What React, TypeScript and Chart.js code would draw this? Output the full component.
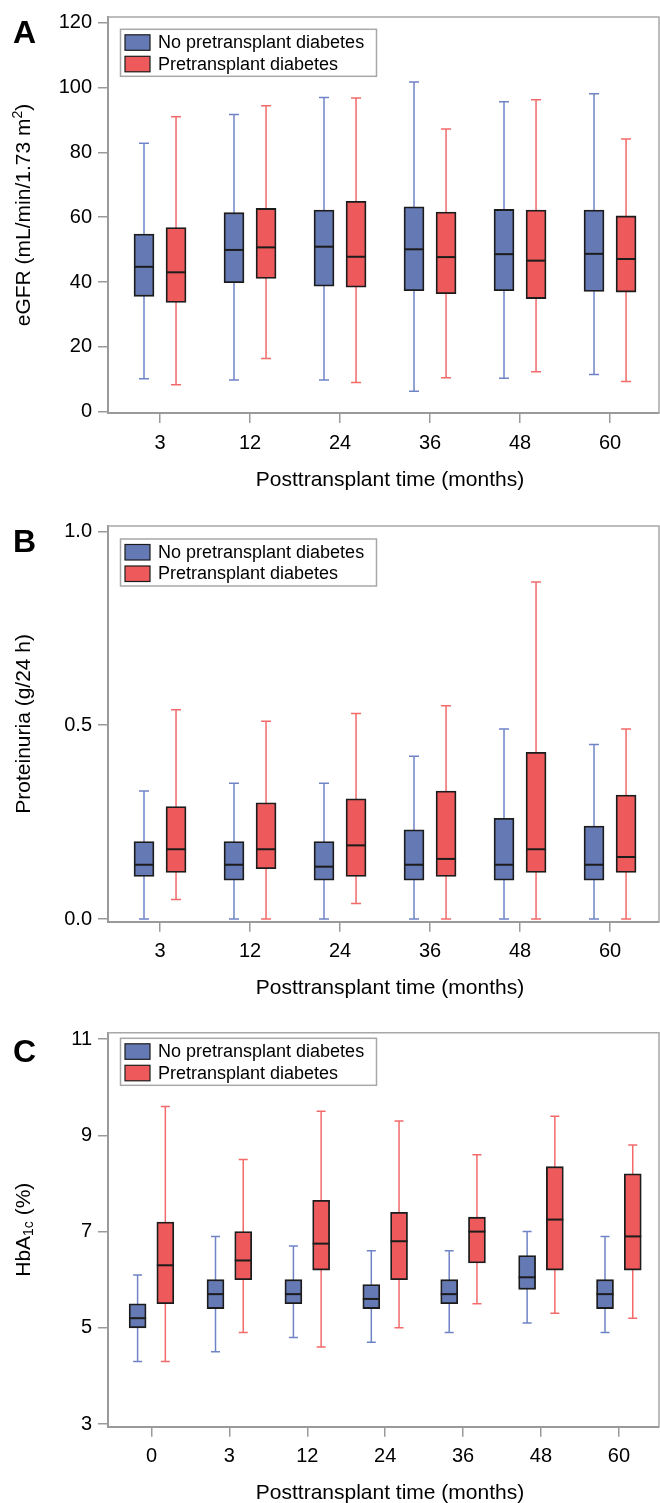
import React, { useEffect, useRef } from 'react';
import { Chart, registerables } from 'chart.js';

Chart.register(...registerables);

const FONT = "'Liberation Sans', Arial, Helvetica, sans-serif";
Chart.defaults.font.family = FONT;

const legendLabels = ['No pretransplant diabetes', 'Pretransplant diabetes'];
const xAxisTitle = 'Posttransplant time (months)';

// ---------- Panel A: eGFR ----------
const monthsA = ['3', '12', '24', '36', '48', '60'];
const egfrTicks = [0, 20, 40, 60, 80, 100, 120];
const egfrTickLabels = ['0', '20', '40', '60', '80', '100', '120'];
const egfrNoMin = [10.2, 9.8, 9.8, 6.3, 10.3, 11.5];
const egfrNoQ1 = [35.6, 39.8, 38.7, 37.3, 37.3, 37.1];
const egfrNoMed = [44.7, 49.9, 50.9, 50.1, 48.6, 48.7];
const egfrNoQ3 = [54.8, 61.4, 62.2, 63.2, 62.4, 62.2];
const egfrNoMax = [82.8, 91.7, 96.9, 101.7, 95.6, 98.1];
const egfrDmMin = [8.3, 16.4, 9.0, 10.5, 12.3, 9.3];
const egfrDmQ1 = [33.7, 41.1, 38.4, 36.4, 34.9, 36.9];
const egfrDmMed = [43.0, 50.7, 47.8, 47.7, 46.6, 47.1];
const egfrDmQ3 = [56.8, 62.7, 64.9, 61.6, 62.2, 60.4];
const egfrDmMax = [91.0, 94.4, 96.8, 87.2, 96.2, 84.1];

// ---------- Panel B: Proteinuria ----------
const monthsB = ['3', '12', '24', '36', '48', '60'];
const protTicks = [0, 0.5, 1.0];
const protTickLabels = ['0.0', '0.5', '1.0'];
const protNoMin = [0, 0, 0, 0, 0, 0];
const protNoQ1 = [0.11, 0.10, 0.10, 0.10, 0.10, 0.10];
const protNoMed = [0.14, 0.14, 0.135, 0.14, 0.14, 0.14];
const protNoQ3 = [0.20, 0.20, 0.20, 0.23, 0.26, 0.24];
const protNoMax = [0.33, 0.35, 0.35, 0.42, 0.49, 0.45];
const protDmMin = [0.05, 0, 0.04, 0, 0, 0];
const protDmQ1 = [0.12, 0.13, 0.11, 0.11, 0.12, 0.12];
const protDmMed = [0.18, 0.18, 0.19, 0.155, 0.18, 0.16];
const protDmQ3 = [0.29, 0.30, 0.31, 0.33, 0.43, 0.32];
const protDmMax = [0.54, 0.51, 0.53, 0.55, 0.87, 0.49];

// ---------- Panel C: HbA1c ----------
const monthsC = ['0', '3', '12', '24', '36', '48', '60'];
const hbaTicks = [3, 5, 7, 9, 11];
const hbaTickLabels = ['3', '5', '7', '9', '11'];
const hbaNoMin = [4.3, 4.5, 4.8, 4.7, 4.9, 5.1, 4.9];
const hbaNoQ1 = [5.0, 5.4, 5.5, 5.4, 5.5, 5.8, 5.4];
const hbaNoMed = [5.2, 5.7, 5.7, 5.6, 5.7, 6.05, 5.7];
const hbaNoQ3 = [5.5, 6.0, 6.0, 5.9, 6.0, 6.5, 6.0];
const hbaNoMax = [6.1, 6.9, 6.7, 6.6, 6.6, 7.0, 6.9];
const hbaDmMin = [4.3, 4.9, 4.6, 5.0, 5.5, 5.3, 5.2];
const hbaDmQ1 = [5.5, 6.0, 6.2, 6.0, 6.35, 6.2, 6.2];
const hbaDmMed = [6.3, 6.4, 6.75, 6.8, 7.0, 7.25, 6.9];
const hbaDmQ3 = [7.2, 7.0, 7.65, 7.4, 7.3, 8.35, 8.2];
const hbaDmMax = [9.6, 8.5, 9.5, 9.3, 8.6, 9.4, 8.8];

const FILLS = ['#6579B4', '#EE5A5B'];
const WHISKERS = ['#6F84C6', '#F26A6A'];
const EDGE = '#1c1c1c';
const AXIS_GRAY = '#9a9a9a';
const FRAME_GRAY = '#a8a8a8';
const GROUP_OFFSET = 0.178;

type Box = { min: number[]; q1: number[]; med: number[]; q3: number[]; max: number[] };
type TitlePart = { text: string; kind?: 'sup' | 'sub' };

type PanelProps = {
  letter: string;
  letterY: number;
  top: number;
  height: number;
  categories: string[];
  yTicks: number[];
  yTickLabels: string[];
  yMin: number;
  yMax: number;
  xMin: number;
  xMax: number;
  groups: Box[];
  yTitle: TitlePart[];
  padTop: number;
  axisH: number;
  barW: number;
  capHalf: number;
  legendDy: number;
};

function Panel(p: PanelProps) {
  const ref = useRef<HTMLCanvasElement | null>(null);

  useEffect(() => {
    const canvas = ref.current;
    if (!canvas) return;
    const offs = [-GROUP_OFFSET, GROUP_OFFSET];

    const plugin = {
      id: 'boxdecor',
      beforeDatasetsDraw(chart: any) {
        const { ctx, scales } = chart;
        const x = scales.x;
        const y = scales.y;
        ctx.save();
        p.groups.forEach((g, gi) => {
          ctx.strokeStyle = WHISKERS[gi];
          ctx.lineWidth = 1.5;
          g.min.forEach((mn, i) => {
            const cx = x.getPixelForValue(i + offs[gi]);
            const y0 = y.getPixelForValue(mn);
            const y1 = y.getPixelForValue(g.max[i]);
            ctx.beginPath();
            ctx.moveTo(cx, y0);
            ctx.lineTo(cx, y1);
            ctx.moveTo(cx - p.capHalf, y0);
            ctx.lineTo(cx + p.capHalf, y0);
            ctx.moveTo(cx - p.capHalf, y1);
            ctx.lineTo(cx + p.capHalf, y1);
            ctx.stroke();
          });
        });
        ctx.restore();
      },
      afterDatasetsDraw(chart: any) {
        const { ctx, scales } = chart;
        const x = scales.x;
        const y = scales.y;
        ctx.save();
        ctx.strokeStyle = EDGE;
        ctx.lineWidth = 2;
        p.groups.forEach((g, gi) => {
          g.med.forEach((m, i) => {
            const cx = x.getPixelForValue(i + offs[gi]);
            const ym = y.getPixelForValue(m);
            ctx.beginPath();
            ctx.moveTo(cx - p.barW / 2, ym);
            ctx.lineTo(cx + p.barW / 2, ym);
            ctx.stroke();
          });
        });
        ctx.restore();
      },
      afterDraw(chart: any) {
        const { ctx, chartArea: a } = chart;
        ctx.save();
        // top & right frame
        ctx.strokeStyle = FRAME_GRAY;
        ctx.lineWidth = 1.5;
        ctx.beginPath();
        ctx.moveTo(a.left, a.top);
        ctx.lineTo(a.right, a.top);
        ctx.lineTo(a.right, a.bottom);
        ctx.stroke();

        // legend
        const lx = a.left + 12.5;
        const ly = a.top + p.legendDy;
        const lw = 256;
        const lh = 47;
        ctx.fillStyle = '#ffffff';
        ctx.fillRect(lx, ly, lw, lh);
        ctx.strokeStyle = FRAME_GRAY;
        ctx.lineWidth = 1.5;
        ctx.strokeRect(lx, ly, lw, lh);
        legendLabels.forEach((lab, r) => {
          const sy = ly + 5.5 + r * 21.5;
          ctx.fillStyle = FILLS[r];
          ctx.fillRect(lx + 4.5, sy, 25, 15.5);
          ctx.strokeStyle = EDGE;
          ctx.lineWidth = 1.2;
          ctx.strokeRect(lx + 4.5, sy, 25, 15.5);
          ctx.fillStyle = '#000';
          ctx.font = `18px ${FONT}`;
          ctx.textAlign = 'left';
          ctx.textBaseline = 'middle';
          ctx.fillText(lab, lx + 37.5, sy + 8.5);
        });

        // x title
        ctx.fillStyle = '#000';
        ctx.font = `21px ${FONT}`;
        ctx.textAlign = 'center';
        ctx.textBaseline = 'middle';
        ctx.fillText(xAxisTitle, 390, a.bottom + 67);

        // y title (rotated, with sup/sub parts)
        const cy = (a.top + a.bottom) / 2;
        ctx.save();
        ctx.translate(30, cy);
        ctx.rotate(-Math.PI / 2);
        ctx.textAlign = 'left';
        ctx.textBaseline = 'alphabetic';
        const fontFor = (k?: string) => (k ? `14px ${FONT}` : `21px ${FONT}`);
        let total = 0;
        p.yTitle.forEach((part) => {
          ctx.font = fontFor(part.kind);
          total += ctx.measureText(part.text).width;
        });
        let px = -total / 2;
        p.yTitle.forEach((part) => {
          ctx.font = fontFor(part.kind);
          const dy = part.kind === 'sup' ? -8 : part.kind === 'sub' ? 3 : 0;
          ctx.fillText(part.text, px, dy);
          px += ctx.measureText(part.text).width;
        });
        ctx.restore();

        // panel letter
        ctx.fillStyle = '#000';
        ctx.font = `bold 32px ${FONT}`;
        ctx.textAlign = 'left';
        ctx.textBaseline = 'alphabetic';
        ctx.fillText(p.letter, 13, p.letterY);
        ctx.restore();
      },
    };

    const datasets = p.groups.map((g, gi) => ({
      label: legendLabels[gi],
      data: g.q1.map((q, i) => ({ x: i + offs[gi], y: [q, g.q3[i]] })),
      backgroundColor: FILLS[gi],
      borderColor: EDGE,
      borderWidth: 1.8,
      borderSkipped: false,
      barThickness: p.barW,
      grouped: false,
    }));

    const chart = new Chart(canvas, {
      type: 'bar',
      data: { datasets: datasets as any },
      options: {
        animation: false,
        responsive: false,
        maintainAspectRatio: false,
        layout: { padding: { top: p.padTop, right: 1, left: 0, bottom: 0 } },
        plugins: {
          legend: { display: false },
          tooltip: { enabled: false },
        },
        scales: {
          x: {
            type: 'linear',
            min: p.xMin,
            max: p.xMax,
            offset: false,
            afterBuildTicks: (s: any) => {
              s.ticks = p.categories.map((_, i) => ({ value: i }));
            },
            afterFit: (s: any) => {
              s.height = p.axisH;
              s.paddingLeft = 0;
              s.paddingRight = 0;
            },
            ticks: {
              callback: (v: any) => p.categories[v as number],
              font: { size: 20, family: FONT },
              color: '#000',
              padding: 8,
              autoSkip: false,
              maxRotation: 0,
            },
            grid: {
              display: true,
              drawOnChartArea: false,
              drawTicks: true,
              tickLength: 10,
              color: AXIS_GRAY,
              lineWidth: 1.5,
              offset: false,
            },
            border: { display: true, color: AXIS_GRAY, width: 2 },
          },
          y: {
            type: 'linear',
            min: p.yMin,
            max: p.yMax,
            afterBuildTicks: (s: any) => {
              s.ticks = p.yTicks.map((v) => ({ value: v }));
            },
            afterFit: (s: any) => {
              s.width = 108;
              s.paddingTop = 0;
              s.paddingBottom = 0;
            },
            ticks: {
              callback: (v: any) => {
                const idx = p.yTicks.findIndex((t) => Math.abs(t - (v as number)) < 1e-9);
                return idx >= 0 ? p.yTickLabels[idx] : '';
              },
              font: { size: 20, family: FONT },
              color: '#000',
              padding: 6,
            },
            grid: {
              display: true,
              drawOnChartArea: false,
              drawTicks: true,
              tickLength: 10,
              color: AXIS_GRAY,
              lineWidth: 1.5,
            },
            border: { display: true, color: AXIS_GRAY, width: 2 },
          },
        },
      } as any,
      plugins: [plugin as any],
    });
    return () => chart.destroy();
  }, []);

  return (
    <canvas
      ref={ref}
      width={660}
      height={p.height}
      style={{ position: 'absolute', left: 0, top: p.top, width: 660, height: p.height }}
    />
  );
}

export default function App() {
  const egfrGroups: Box[] = [
    { min: egfrNoMin, q1: egfrNoQ1, med: egfrNoMed, q3: egfrNoQ3, max: egfrNoMax },
    { min: egfrDmMin, q1: egfrDmQ1, med: egfrDmMed, q3: egfrDmQ3, max: egfrDmMax },
  ];
  const protGroups: Box[] = [
    { min: protNoMin, q1: protNoQ1, med: protNoMed, q3: protNoQ3, max: protNoMax },
    { min: protDmMin, q1: protDmQ1, med: protDmMed, q3: protDmQ3, max: protDmMax },
  ];
  const hbaGroups: Box[] = [
    { min: hbaNoMin, q1: hbaNoQ1, med: hbaNoMed, q3: hbaNoQ3, max: hbaNoMax },
    { min: hbaDmMin, q1: hbaDmQ1, med: hbaDmMed, q3: hbaDmQ3, max: hbaDmMax },
  ];
  return (
    <div style={{ position: 'absolute', left: 0, top: 0, width: 660, height: 1503, background: '#fff' }}>
      <Panel
        letter="A"
        letterY={43}
        top={0}
        height={500}
        categories={monthsA}
        yTicks={egfrTicks}
        yTickLabels={egfrTickLabels}
        yMin={-0.4}
        yMax={121.76}
        xMin={-0.578}
        xMax={5.544}
        groups={egfrGroups}
        yTitle={[{ text: 'eGFR (mL/min/1.73 m' }, { text: '2', kind: 'sup' }, { text: ')' }]}
        padTop={17}
        axisH={87}
        barW={20}
        capHalf={5}
        legendDy={12.3}
      />
      <Panel
        letter="B"
        letterY={52}
        top={500}
        height={500}
        categories={monthsB}
        yTicks={protTicks}
        yTickLabels={protTickLabels}
        yMin={-0.007}
        yMax={1.0142}
        xMin={-0.578}
        xMax={5.544}
        groups={protGroups}
        yTitle={[{ text: 'Proteinuria (g/24 h)' }]}
        padTop={26}
        axisH={78.3}
        barW={20}
        capHalf={5}
        legendDy={13}
      />
      <Panel
        letter="C"
        letterY={61.5}
        top={1000}
        height={503}
        categories={monthsC}
        yTicks={hbaTicks}
        yTickLabels={hbaTickLabels}
        yMin={2.944}
        yMax={11.135}
        xMin={-0.558}
        xMax={6.515}
        groups={hbaGroups}
        yTitle={[{ text: 'HbA' }, { text: '1c', kind: 'sub' }, { text: ' (%)' }]}
        padTop={32.7}
        axisH={76.3}
        barW={17}
        capHalf={4.5}
        legendDy={5.6}
      />
    </div>
  );
}
